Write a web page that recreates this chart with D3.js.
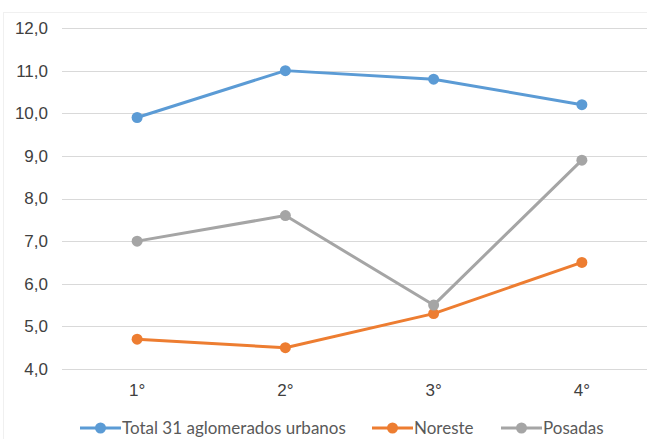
<!DOCTYPE html>
<html><head><meta charset="utf-8">
<script src="https://cdn.jsdelivr.net/npm/d3@7"></script>
<style>body{margin:0;background:#fff;}svg{display:block;}</style>
</head><body>
<script>
const categories = ["1°","2°","3°","4°"];
const seriesNames = ["Total 31 aglomerados urbanos","Noreste","Posadas"];
const totalValues = [9.9, 11.0, 10.8, 10.2];
const noresteValues = [4.7, 4.5, 5.3, 6.5];
const posadasValues = [7.0, 7.6, 5.5, 8.9];
const yTicks = [4,5,6,7,8,9,10,11,12];
const colors = ["#5B9BD5","#ED7D31","#A5A5A5"];

const W = 647, H = 439;
const svg = d3.select("body").append("svg").attr("width", W).attr("height", H);

svg.append("rect").attr("x",3.5).attr("y",12.5).attr("width",W).attr("height",H)
  .attr("fill","none").attr("stroke","#f0f0f0");

const x = d3.scaleBand().domain(categories).range([63, 656]).padding(0);
const y = d3.scaleLinear().domain([4, 12]).range([369, 28]);
const fmt = d => d3.format(".1f")(d).replace(".", ",");

// gridlines
svg.append("g").selectAll("line").data(yTicks).join("line")
  .attr("x1", 62).attr("x2", 656)
  .attr("y1", d => Math.round(y(d)) + 0.5).attr("y2", d => Math.round(y(d)) + 0.5)
  .attr("stroke", "#d9d9d9").attr("stroke-width", 1);

// y axis labels
const yAxis = d3.axisLeft(y).tickValues(yTicks).tickFormat(fmt).tickSize(0).tickPadding(0);
const gy = svg.append("g").attr("transform","translate(48,0)").call(yAxis);
gy.select(".domain").remove();
gy.selectAll("text").attr("font-family","Arial, 'Liberation Sans', sans-serif")
  .attr("font-size", 17).attr("fill","#404040");

// x axis labels
const xAxis = d3.axisBottom(x).tickSize(0).tickPadding(0);
const gx = svg.append("g").attr("transform","translate(0,384)").call(xAxis);
gx.select(".domain").remove();
gx.selectAll("text").attr("font-family","Arial, 'Liberation Sans', sans-serif")
  .attr("font-size", 17).attr("fill","#404040");

const cx = c => x(c) + x.bandwidth()/2;
const allSeries = [totalValues, noresteValues, posadasValues];
const line = d3.line().x((d,i) => cx(categories[i])).y(d => y(d));

allSeries.forEach((vals, si) => {
  svg.append("path").datum(vals).attr("d", line)
    .attr("fill","none").attr("stroke", colors[si]).attr("stroke-width", 3)
    .attr("stroke-linejoin","round");
  svg.append("g").selectAll("circle").data(vals).join("circle")
    .attr("cx", (d,i) => cx(categories[i])).attr("cy", d => y(d))
    .attr("r", 5.5).attr("fill", colors[si]);
});

// legend
const legendX = [80, 372, 501];
const legendY = 428;
seriesNames.forEach((name, i) => {
  const g = svg.append("g").attr("transform", `translate(${legendX[i]},${legendY})`);
  g.append("line").attr("x1",0).attr("x2",41).attr("y1",0).attr("y2",0)
    .attr("stroke", colors[i]).attr("stroke-width", 3);
  g.append("circle").attr("cx", 20.5).attr("cy", 0).attr("r", 5.5).attr("fill", colors[i]);
  g.append("text").attr("x", 42).attr("y", 0).attr("dy","0.35em")
    .attr("font-family","Lato, sans-serif").attr("font-size", 17)
    .attr("fill","#595959").text(name);
});
</script>
</body></html>
